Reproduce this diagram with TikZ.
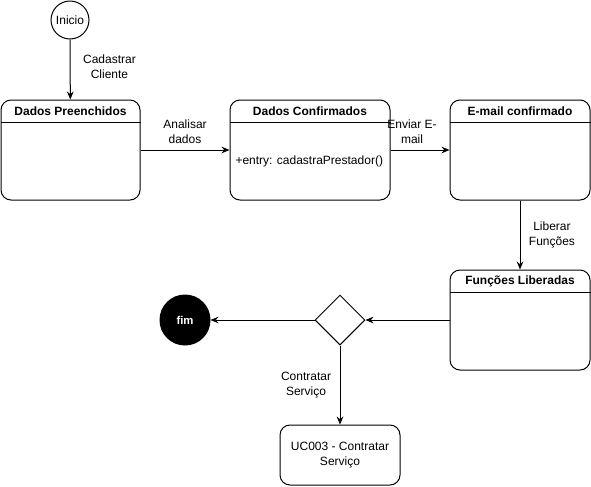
\documentclass[tikz,border=0pt]{standalone}
\usepackage{fontspec}
\setmainfont{Liberation Sans}
\usetikzlibrary{arrows.meta}
\usetikzlibrary{shapes.geometric}
\tikzset{state/.style={draw, rounded corners=7.5pt, minimum width=#1*0.75pt, minimum height=75pt},
  state/.default=140,
  flow/.style={-{Stealth[length=6pt,width=5pt,inset=2pt]}},
  lbl/.style={align=center, font=\fontsize{9}{11}\selectfont},
  ttl/.style={font=\fontsize{9}{11}\selectfont\bfseries}}

\begin{document}
\begin{tikzpicture}[x=0.75pt,y=-0.75pt,line width=0.75pt]
      \useasboundingbox (0,0) rectangle (591,486);

      \node[draw, circle, minimum size=28.5pt, inner sep=0pt, lbl] (inicio) at (70,20) {Inicio};

      \node[state=139] (preench) at (70.5,150) {};
      \node[state=160] (confirm) at (310,150) {};
      \node[state=140] (email) at (520,150) {};
      \node[state=140] (funcoes) at (520,320) {};

      \foreach \s in {preench,confirm,email,funcoes}
        \draw ([yshift=-17.25pt]\s.north west) -- ([yshift=-17.25pt]\s.north east);

      \node[ttl] (preenchT) at (70.5,111.5) {Dados Preenchidos};
      \node[ttl] (confirmT) at (310,111.5) {Dados Confirmados};
      \node[ttl] (emailT) at (520,111.5) {E-mail confirmado};
      \node[ttl] (funcoesT) at (520,281.5) {Funções Liberadas};
      \node[lbl, anchor=west, inner sep=0pt] (entry) at (235,161) {+entry: cadastraPrestador()};

      \node[draw, diamond, minimum size=37.5pt, inner sep=0pt] (escolha) at (340,320) {};
      \node[draw, circle, fill=black, minimum size=37.5pt, inner sep=0pt,
            text=white, font=\fontsize{8.5}{10}\selectfont\bfseries] (fim) at (185,320) {fim};
      \node[draw, rounded corners=7.5pt, minimum width=90pt, minimum height=45pt,
            lbl] (contratar) at (340,455) {UC003 - Contratar\\Serviço};

      \draw[flow] (inicio) -- node[lbl, right=6pt, yshift=2pt] {Cadastrar\\Cliente} (preench);
      \draw[flow] (preench) -- node[lbl, above=1pt] {Analisar\\dados} (confirm);
      \draw[flow] (confirm) -- node[lbl, above=1pt, xshift=-6pt] {Enviar E-\\mail} (email);
      \draw[flow] (email) -- node[lbl, right=3pt] {Liberar\\Funções} (funcoes);
      \draw[flow] (funcoes) -- (escolha);
      \draw[flow] (escolha) -- (fim);
      \draw[flow] (escolha) -- node[lbl, left=3pt] {Contratar\\Serviço} (contratar);
    \end{tikzpicture}
\end{document}
